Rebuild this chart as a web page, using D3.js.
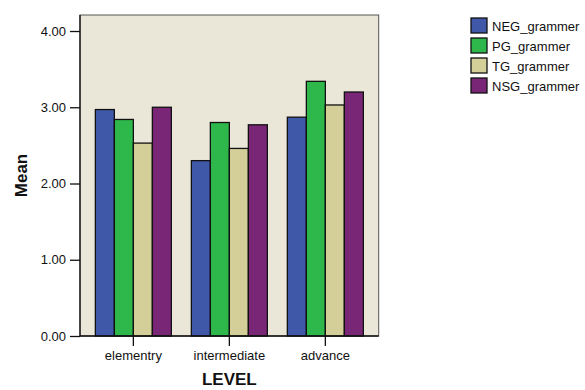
<!DOCTYPE html>
<html>
<head>
<meta charset="utf-8">
<script src="https://cdn.jsdelivr.net/npm/d3@7"></script>
<style>
  html, body { margin: 0; padding: 0; background: #ffffff; }
  svg { display: block; }
  text { font-family: Arial, "Liberation Sans", sans-serif; fill: #111; }
</style>
</head>
<body>
<svg id="chart" width="585" height="390"></svg>
<script>
const categories = ["elementry", "intermediate", "advance"];
const seriesNames = ["NEG_grammer", "PG_grammer", "TG_grammer", "NSG_grammer"];
const NEG_grammer = [2.97, 2.30, 2.87];
const PG_grammer  = [2.84, 2.80, 3.34];
const TG_grammer  = [2.53, 2.46, 3.03];
const NSG_grammer = [3.00, 2.77, 3.20];
const seriesValues = [NEG_grammer, PG_grammer, TG_grammer, NSG_grammer];
const yTicks = [0, 1, 2, 3, 4];
const colors = ["#3f58a8", "#2eb84b", "#d4cf98", "#7a2677"];

const svg = d3.select("#chart");
const plot = { left: 80, right: 378.7, top: 15, bottom: 336 };

const x0 = d3.scaleBand().domain(categories)
  .range([plot.left, plot.right]).paddingInner(0.2083).paddingOuter(0.16);
const x1 = d3.scaleBand().domain(seriesNames).range([0, x0.bandwidth()]);
const y = d3.scaleLinear().domain([0, 4.21]).range([plot.bottom, plot.top]);
const color = d3.scaleOrdinal().domain(seriesNames).range(colors);

// plot background
svg.append("rect")
  .attr("x", plot.left).attr("y", plot.top)
  .attr("width", plot.right - plot.left).attr("height", plot.bottom - plot.top)
  .attr("fill", "#ebe7d8").attr("stroke", "#555").attr("stroke-width", 1);

// bars
const groups = svg.append("g").selectAll("g").data(categories).join("g")
  .attr("transform", c => `translate(${x0(c)},0)`);
groups.selectAll("rect")
  .data((c, ci) => seriesNames.map((s, si) => ({ s, v: seriesValues[si][ci] })))
  .join("rect")
  .attr("x", d => x1(d.s))
  .attr("y", d => y(d.v))
  .attr("width", x1.bandwidth())
  .attr("height", d => y(0) - y(d.v))
  .attr("fill", d => color(d.s))
  .attr("stroke", "#111").attr("stroke-width", 1.3);

// y axis
const yAxis = svg.append("g").attr("transform", `translate(${plot.left},0)`)
  .call(d3.axisLeft(y).tickValues(yTicks).tickFormat(d3.format(".2f")).tickSize(10).tickPadding(4));
yAxis.select(".domain").attr("stroke", "#111").attr("stroke-width", 1.3)
  .attr("d", `M0,${plot.top}V${plot.bottom}`);
yAxis.selectAll(".tick line").attr("stroke", "#111").attr("stroke-width", 1.3);
yAxis.selectAll(".tick text").attr("font-size", 13).attr("fill", "#222")
  .style("font-family", "Arial, 'Liberation Sans', sans-serif");

// x axis
const xAxis = svg.append("g").attr("transform", `translate(0,${plot.bottom})`)
  .call(d3.axisBottom(x0).tickSize(10).tickPadding(5));
xAxis.select(".domain").attr("stroke", "#111").attr("stroke-width", 1.3)
  .attr("d", `M${plot.left},0H${plot.right}`);
xAxis.selectAll(".tick line").attr("stroke", "#111").attr("stroke-width", 1.3);
xAxis.selectAll(".tick text").attr("font-size", 13).attr("fill", "#222")
  .style("font-family", "Arial, 'Liberation Sans', sans-serif");

// axis titles
svg.append("text")
  .attr("x", (plot.left + plot.right) / 2).attr("y", 385)
  .attr("text-anchor", "middle").attr("font-size", 17).attr("font-weight", "bold")
  .text("LEVEL");
svg.append("text")
  .attr("transform", `translate(27,${(plot.top + plot.bottom) / 2}) rotate(-90)`)
  .attr("text-anchor", "middle").attr("font-size", 17).attr("font-weight", "bold")
  .text("Mean");

// legend
const legend = svg.append("g").attr("transform", "translate(471,18)");
const items = legend.selectAll("g").data(seriesNames).join("g")
  .attr("transform", (d, i) => `translate(0,${i * 20})`);
items.append("rect").attr("width", 16).attr("height", 15)
  .attr("fill", d => color(d)).attr("stroke", "#111").attr("stroke-width", 1.3);
items.append("text").attr("x", 21).attr("y", 12.5)
  .attr("font-size", 13).attr("fill", "#222").text(d => d);
</script>
</body>
</html>
